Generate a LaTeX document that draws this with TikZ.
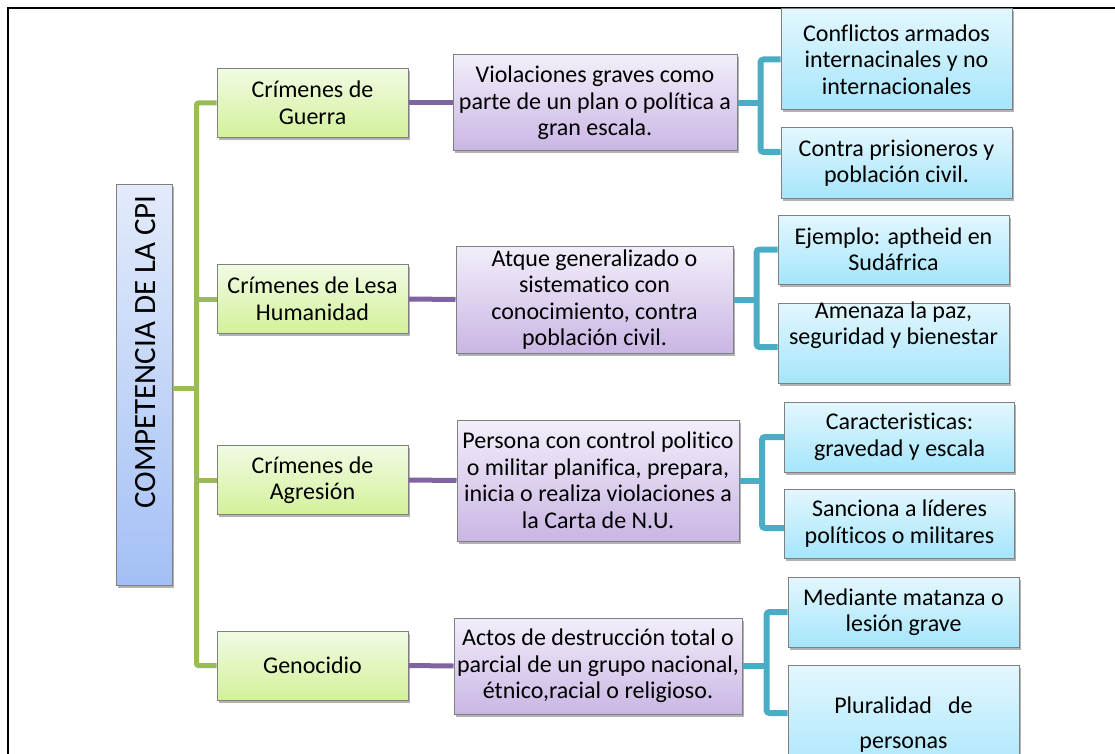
\documentclass[tikz,border=0pt]{standalone}
\usepackage{fontspec}
\setmainfont{Carlito}[Ligatures=NoCommon]
\usetikzlibrary{shadows}
\definecolor{gtop}{HTML}{F1FBE3}
\definecolor{gbot}{HTML}{D3F19A}
\definecolor{ptop}{HTML}{F3EEFA}
\definecolor{pbot}{HTML}{C9B6E4}
\definecolor{btop}{HTML}{E3F7FE}
\definecolor{bbot}{HTML}{A5E5FB}
\definecolor{rtop}{HTML}{E3EBFB}
\definecolor{rbot}{HTML}{A3C0F5}
\definecolor{gl}{HTML}{9BBB59}
\definecolor{pl}{HTML}{8064A2}
\definecolor{bl}{HTML}{4BACC6}
\definecolor{edgec}{HTML}{808080}
\begin{document}
\begin{tikzpicture}[x=1pt,y=-1pt,
  boxbase/.style={rectangle, draw=edgec, line width=1pt, inner sep=0pt, align=center,
    font=\fontsize{24}{26.5}\selectfont,
    drop shadow={opacity=0.3, shadow xshift=1.5pt, shadow yshift=-2.5pt, fill=black}},
  gbox/.style={boxbase, top color=gtop, bottom color=gbot, minimum width=191pt, minimum height=69pt},
  pbox/.style={boxbase, top color=ptop, bottom color=pbot},
  bbox/.style={boxbase, top color=btop, bottom color=bbot},
  rbox/.style={boxbase, top color=rtop, bottom color=rbot},
  txt/.style={inner sep=0pt, align=center, font=\fontsize{24}{26.5}\selectfont},
  gline/.style={draw=gl, line width=5pt},
  pline/.style={draw=pl, line width=5pt},
  bline/.style={draw=bl, line width=6pt},
]
\useasboundingbox (0,0) rectangle (1115,754);
\draw[line width=2pt] (8,8) rectangle (1125,764);

% nodes
\node[rbox, minimum width=56pt, minimum height=401pt] (root) at (144,384.5) {};
\node[txt, rotate=90, font=\fontsize{31}{33}\selectfont] (roott) at (146,352) {COMPETENCIA DE LA CPI};

\node[gbox] (g1) at (312.5,103) {Crímenes de\\Guerra};
\node[gbox] (g2) at (312.5,299) {Crímenes de Lesa\\Humanidad};
\node[gbox] (g3) at (312.5,480) {Crímenes de\\Agresión};
\node[gbox] (g4) at (312.5,665.5) {Genocidio};

\node[pbox, minimum width=284pt, minimum height=96pt] (p1) at (595,103) {Violaciones graves como\\parte de un plan o política a\\gran escala.};
\node[pbox, minimum width=277pt, minimum height=107pt] (p2) at (594.5,299.5) {Atque generalizado o\\sistematico con\\conocimiento, contra\\población civil.};
\node[pbox, minimum width=282pt, minimum height=121pt] (p3) at (598,480.5) {Persona con control politico\\o militar planifica, prepara,\\inicia o realiza violaciones a\\la Carta de N.U.};
\node[pbox, minimum width=288pt, minimum height=96pt] (p4) at (598,666) {Actos de destrucción total o\\parcial de un grupo nacional,\\étnico,racial o religioso.};

\node[bbox, minimum width=231pt, minimum height=101pt] (b1a) at (896.5,59.5) {Conflictos armados\\internacinales y no\\internacionales};
\node[bbox, minimum width=231pt, minimum height=70pt] (b1b) at (896.5,163) {Contra prisioneros y\\población civil.};
\node[bbox, minimum width=231pt, minimum height=69pt] (b2a) at (893.5,249.5) {Ejemplo: aptheid en\\Sudáfrica};
\node[bbox, minimum width=231pt, minimum height=80pt] (b2b) at (893.5,343) {};
\node[txt] (b2bt) at (893.5,325) {Amenaza la paz,\\seguridad y bienestar};
\node[bbox, minimum width=230pt, minimum height=70pt] (b3a) at (899.5,437) {Caracteristicas:\\gravedad y escala};
\node[bbox, minimum width=230pt, minimum height=69pt] (b3b) at (899.5,523.5) {Sanciona a líderes\\políticos o militares};
\node[bbox, minimum width=231pt, minimum height=70pt] (b4a) at (903.5,612) {Mediante matanza o\\lesión grave};
\node[bbox, minimum width=231pt, minimum height=119pt, font=\fontsize{24}{35}\selectfont] (b4b) at (903.5,724.5) {Pluralidad\ \ \ de\\personas};

% connectors
\coordinate (trunk) at (197,388);
\draw[gline] ([yshift=-3.5pt]root.east) -- (trunk);
\draw[gline, rounded corners=2pt] (g1.west) -- ++(-20,0) |- (g4.west);
\draw[gline] (g2.west) -- ++(-20,0);
\draw[gline] (g3.west) -- ++(-20,0);

\draw[pline] (g1.east) -- (p1.west);
\draw[pline] (g2.east) -- (p2.west);
\draw[pline] (g3.east) -- (p3.west);
\draw[pline] (g4.east) -- (p4.west);

\draw[bline] (p1.east) -- ++(24,0);
\draw[bline, rounded corners=3pt] (b1a.west) -- ++(-20,0) |- ([yshift=11pt]b1b.west);
\draw[bline] (p2.east) -- ++(24,0);
\draw[bline, rounded corners=3pt] (b2a.west) -- ++(-21,0) |- ([yshift=-4pt]b2b.west);
\draw[bline] (p3.east) -- ++(24,0);
\draw[bline, rounded corners=3pt] (b3a.west) -- ++(-22,0) |- ([yshift=-4.5pt]b3b.west);
\draw[bline] (p4.east) -- ++(25,0);
\draw[bline, rounded corners=3pt] (b4a.west) -- ++(-21,0) |- ([yshift=11.5pt]b4b.west);
\end{tikzpicture}
\end{document}
